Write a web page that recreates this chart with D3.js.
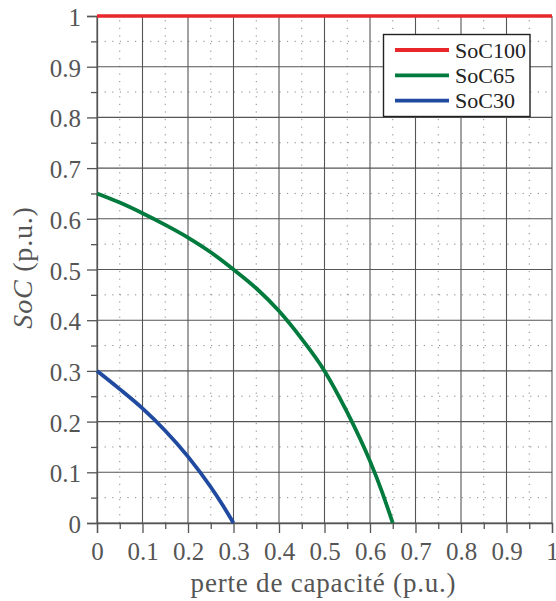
<!DOCTYPE html>
<html><head><meta charset="utf-8">
<script src="https://cdn.jsdelivr.net/npm/d3@7"></script>
<style>body{margin:0;background:#fff}svg{display:block}</style>
</head><body><svg id="c" width="556" height="601"></svg>
<script>
const xTicks = [0,0.1,0.2,0.3,0.4,0.5,0.6,0.7,0.8,0.9,1];
const xTickLabels = ["0","0.1","0.2","0.3","0.4","0.5","0.6","0.7","0.8","0.9","1"];
const yTicks = [0,0.1,0.2,0.3,0.4,0.5,0.6,0.7,0.8,0.9,1];
const yTickLabels = ["0","0.1","0.2","0.3","0.4","0.5","0.6","0.7","0.8","0.9","1"];
const seriesNames = ["SoC100","SoC65","SoC30"];
const soc100X = [0, 1];
const soc100Y = [1, 1];
const soc65X = [0, 0.05, 0.1, 0.15, 0.2, 0.25, 0.3, 0.35, 0.4, 0.45, 0.5, 0.55, 0.6, 0.625, 0.65];
const soc65Y = [0.65, 0.632, 0.611, 0.588, 0.563, 0.534, 0.500, 0.463, 0.418, 0.363, 0.300, 0.218, 0.122, 0.065, 0];
const soc30X = [0, 0.05, 0.1, 0.15, 0.2, 0.25, 0.275, 0.3];
const soc30Y = [0.3, 0.264, 0.226, 0.182, 0.131, 0.071, 0.037, 0];
const colors = ["#e8262c", "#007a3d", "#1f4aa0"];

const svg = d3.select("#c");
const L = 97, R = 552, T = 16, B = 523;
const x = d3.scaleLinear().domain([0,1]).range([L,R]);
const y = d3.scaleLinear().domain([0,1]).range([B,T]);
const font = "'Liberation Serif', 'Times New Roman', serif";
const txt = "#555";

const minor = d3.range(0.05, 1, 0.1);
const g = svg.append("g");
g.selectAll(".mvx").data(minor).join("line")
  .attr("x1", d=>x(d)).attr("x2", d=>x(d)).attr("y1", B).attr("y2", T)
  .attr("stroke", "#888").attr("stroke-width", 1).attr("stroke-dasharray", "1.2,6.4");
g.selectAll(".mhy").data(minor).join("line")
  .attr("y1", d=>y(d)).attr("y2", d=>y(d)).attr("x1", L).attr("x2", R)
  .attr("stroke", "#888").attr("stroke-width", 1).attr("stroke-dasharray", "1.2,6.4");
g.selectAll(".gx").data(xTicks).join("line")
  .attr("x1", d=>x(d)).attr("x2", d=>x(d)).attr("y1", B).attr("y2", T)
  .attr("stroke", "#555").attr("stroke-width", 1.1);
g.selectAll(".gy").data(yTicks).join("line")
  .attr("y1", d=>y(d)).attr("y2", d=>y(d)).attr("x1", L).attr("x2", R)
  .attr("stroke", "#555").attr("stroke-width", 1.1);

const xAxis = d3.axisBottom(x).tickValues(xTicks).tickSize(10).tickPadding(10)
  .tickFormat((d,i)=>xTickLabels[i]);
const yAxis = d3.axisLeft(y).tickValues(yTicks).tickSize(10).tickPadding(6)
  .tickFormat((d,i)=>yTickLabels[i]);
const xa = svg.append("g").attr("transform", `translate(0,${B})`).call(xAxis);
const ya = svg.append("g").attr("transform", `translate(${L},0)`).call(yAxis);
svg.append("g").attr("transform", `translate(0,${B})`)
  .call(d3.axisBottom(x).tickValues(minor).tickSize(6).tickFormat(""))
  .call(s=>s.select(".domain").remove());
svg.append("g").attr("transform", `translate(${L},0)`)
  .call(d3.axisLeft(y).tickValues(minor).tickSize(6).tickFormat(""))
  .call(s=>s.select(".domain").remove());
svg.selectAll(".tick line").attr("stroke", "#555").attr("stroke-width", 1.3);
svg.selectAll(".domain").attr("stroke", "#555").attr("stroke-width", 1.3);
[xa, ya].forEach(a => a.attr("font-family", font).attr("font-size", 25)
  .selectAll("text").attr("font-family", font).attr("font-size", 25).attr("fill", txt));
xa.selectAll("text").attr("dy", "0.68em");
ya.selectAll("text").attr("dy", "0.38em");

const series = [
  {x: soc100X, y: soc100Y},
  {x: soc65X, y: soc65Y},
  {x: soc30X, y: soc30Y}
];
const line = d3.line().x(d=>x(d[0])).y(d=>y(d[1])).curve(d3.curveMonotoneX);
series.forEach((s,i) => {
  svg.append("path").datum(s.x.map((v,j)=>[v, s.y[j]]))
    .attr("d", line).attr("fill","none").attr("stroke", colors[i])
    .attr("stroke-width", i===0 ? 3.6 : 3.8);
});

const lg = svg.append("g");
lg.append("rect").attr("x", 383.5).attr("y", 34.5).attr("width", 146.5).attr("height", 82)
  .attr("fill", "#fff").attr("stroke", "#222").attr("stroke-width", 1.4);
seriesNames.forEach((n,i) => {
  const yy = 50 + i*25.3;
  lg.append("line").attr("x1", 395).attr("x2", 449).attr("y1", yy).attr("y2", yy)
    .attr("stroke", colors[i]).attr("stroke-width", 3.8);
  lg.append("text").attr("x", 455).attr("y", yy).attr("dy", "0.35em")
    .attr("font-family", font).attr("font-size", 22).attr("fill", "#222").text(n);
});

svg.append("text").attr("x", 323.5).attr("y", 592).attr("text-anchor", "middle")
  .attr("font-family", font).attr("font-size", 27).attr("letter-spacing", 0.8).attr("fill", txt)
  .text("perte de capacité (p.u.)");
const yt = svg.append("text").attr("transform", `translate(32,267.5) rotate(-90)`)
  .attr("text-anchor", "middle").attr("font-family", font).attr("font-size", 28)
  .attr("letter-spacing", 0.8).attr("fill", txt);
yt.append("tspan").attr("font-style", "italic").text("SoC");
yt.append("tspan").text(" (p.u.)");
</script></body></html>
